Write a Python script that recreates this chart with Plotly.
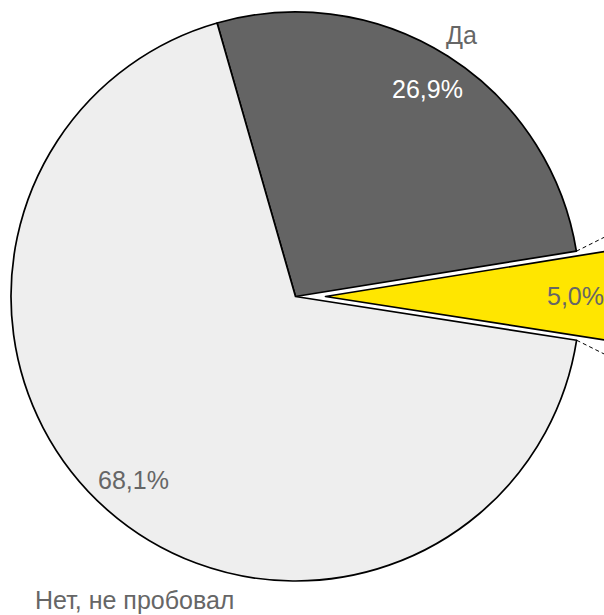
import math
import plotly.graph_objects as go

# ---- data ----
categories = ["Да", "Затрудняюсь ответить", "Нет, не пробовал"]
values = [26.9, 5.0, 68.1]
pct_labels = ["26,9%", "5,0%", "68,1%"]
colors = ["#646464", "#FFE600", "#EEEEEE"]

# ---- geometry (pixels) ----
VW, VH = 604, 615          # visible window
W, H = 660, 640            # figure (right/bottom overflow is hidden)
cx, cy, R = 295.5, 296.5, 284.5
rotation = -16.0
pull_px = 30.0
lw = 1.7

def px_x(x):
    return x / W

def px_y(y):
    return 1 - y / H

fig = go.Figure()

# main pie: yellow slot transparent (it is drawn pulled out below)
main_colors = [colors[0], "rgba(0,0,0,0)", colors[2]]
fig.add_trace(go.Pie(
    labels=categories, values=values, sort=False, direction="clockwise",
    rotation=rotation,
    marker=dict(colors=main_colors, line=dict(color="black", width=[lw, 0, lw])),
    textinfo="none", hoverinfo="label+percent", showlegend=False,
    domain=dict(x=[px_x(cx - R), px_x(cx + R)], y=[px_y(cy + R), px_y(cy - R)]),
))

# pulled-out yellow slice
ycx = cx + pull_px
fig.add_trace(go.Pie(
    labels=categories, values=values, sort=False, direction="clockwise",
    rotation=rotation,
    marker=dict(colors=["rgba(0,0,0,0)", colors[1], "rgba(0,0,0,0)"],
                line=dict(color="black", width=[0, lw, 0])),
    textinfo="none", hoverinfo="label+percent", showlegend=False,
    domain=dict(x=[px_x(ycx - R), px_x(ycx + R)], y=[px_y(cy + R), px_y(cy - R)]),
))

# angles of slices
total = sum(values)
angles = []
a = rotation
for v in values:
    a0 = a
    a = a + v / total * 360
    angles.append((a0, a))

gray = "#666666"
font = "Liberation Sans, Arial, sans-serif"
fs = 25

# percentage labels
centers = [(cx, cy), (ycx, cy), (cx, cy)]
pct_colors = ["white", gray, gray]
pct_r = [0.866, 0.877, 0.86]
for i, (a0, a1) in enumerate(angles):
    mid = math.radians((a0 + a1) / 2)
    ccx, ccy = centers[i]
    r = R * pct_r[i]
    x = ccx + r * math.sin(mid)
    y = ccy - r * math.cos(mid)
    fig.add_annotation(x=px_x(x), y=px_y(y), xref="paper", yref="paper",
                       text=pct_labels[i], showarrow=False,
                       font=dict(family=font, size=fs, color=pct_colors[i]),
                       xanchor="center", yanchor="middle")

# category labels (outside)
mid0 = math.radians(sum(angles[0]) / 2)
fig.add_annotation(x=px_x(cx + 1.09 * R * math.sin(mid0)),
                   y=px_y(cy - 1.09 * R * math.cos(mid0)),
                   xref="paper", yref="paper", text=categories[0], showarrow=False,
                   font=dict(family=font, size=fs, color=gray),
                   xanchor="center", yanchor="middle")
fig.add_annotation(x=px_x(33), y=px_y(600),
                   xref="paper", yref="paper", text=categories[2], showarrow=False,
                   font=dict(family=font, size=fs, color=gray),
                   xanchor="left", yanchor="middle")

# dashed connector lines from the yellow slice's original edges
for ang, slope in [(angles[1][0], -0.5), (angles[1][1], 0.5)]:
    t = math.radians(ang)
    x0 = cx + R * math.sin(t)
    y0 = cy - R * math.cos(t)
    x1 = VW + 20
    y1 = y0 + slope * (x1 - x0)
    fig.add_shape(type="line", xref="paper", yref="paper",
                  x0=px_x(x0), y0=px_y(y0), x1=px_x(x1), y1=px_y(y1),
                  line=dict(color="black", width=1, dash="4px,3px"))

fig.update_layout(width=W, height=H, margin=dict(l=0, r=0, t=0, b=0),
                  paper_bgcolor="white", plot_bgcolor="white", showlegend=False)

fig.write_html(
    "out.html",
    post_script="document.body.style.margin='0';document.body.style.overflow='hidden';"
                "document.documentElement.style.overflow='hidden';",
)
